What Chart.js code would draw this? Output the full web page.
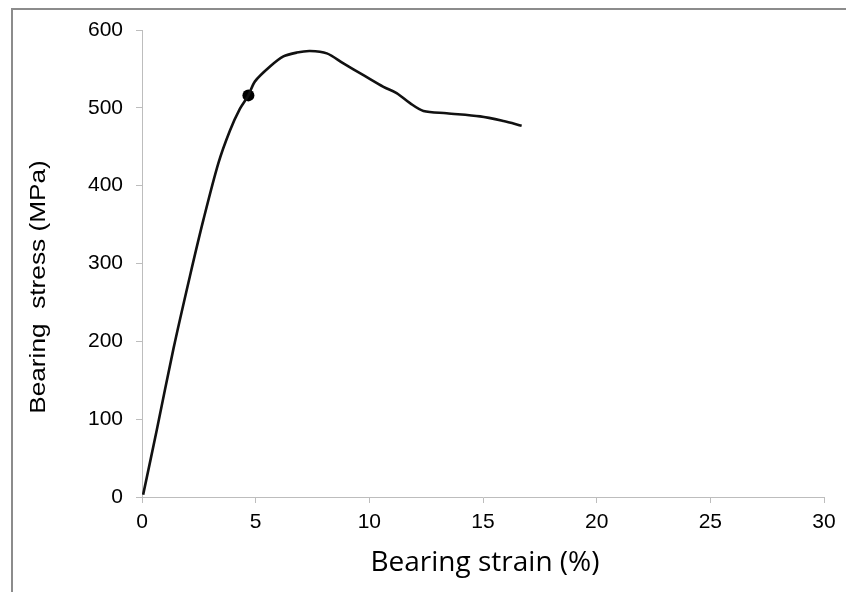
<!DOCTYPE html>
<html>
<head>
<meta charset="utf-8">
<script src="https://cdn.jsdelivr.net/npm/chart.js@4.4.0/dist/chart.umd.min.js"></script>
<style>
    html, body { margin: 0; padding: 0; background: #fff; }
    #wrap { width: 846px; height: 592px; }
</style>
</head>
<body>
<div id="wrap"><canvas id="bearing-chart"></canvas></div>
<script>
    // values
    var strain = [0.05, 0.65, 1.38, 2.11, 2.7, 3.36, 3.87, 4.31, 4.68, 4.97, 5.63, 6.22, 6.81, 7.39,
        8.13, 8.86, 9.74, 10.62, 11.2, 11.79, 12.38, 13.4, 14.87, 15.9, 16.7];
    var stress = [3, 86, 190, 284, 356, 429, 471, 499, 516, 534, 553, 566, 571, 573,
        570, 557, 542, 527, 519, 506, 496, 493, 489, 483, 477];
    var markStrain = [4.68];
    var markStress = [516];
    var xTicks = [0, 5, 10, 15, 20, 25, 30];
    var yTicks = [0, 100, 200, 300, 400, 500, 600];
    var xTitle = 'Bearing strain (%)';
    var yTitle = 'Bearing  stress (MPa)';

    function toPoints(xs, ys) {
        return xs.map(function (x, i) { return {x: x, y: ys[i]}; });
    }

    // frame + titles, drawn by hand
    var decor = {
        id: 'decor',
        beforeDraw: function (chart) {
            var ctx = chart.ctx;
            ctx.save();
            ctx.fillStyle = '#fff';
            ctx.fillRect(0, 0, chart.width, chart.height);
            ctx.strokeStyle = '#8c8c8c';
            ctx.lineWidth = 2;
            ctx.strokeRect(12, 9, 900, 700);
            ctx.restore();
        },
        afterDraw: function (chart) {
            var ctx = chart.ctx;
            ctx.save();
            ctx.fillStyle = '#000';
            ctx.textAlign = 'center';
            ctx.textBaseline = 'alphabetic';
            ctx.font = '28px "Open Sans", sans-serif';
            ctx.fillText(xTitle, 485, 571);

            ctx.translate(45, 287);
            ctx.rotate(-Math.PI / 2);
            ctx.scale(1.22, 1);
            ctx.font = '21.5px "Liberation Sans", Arial, sans-serif';
            ctx.fillText(yTitle, 0, 0);
            ctx.restore();
        }
    };

    var axisGray = '#bdbdbd';
    var tickFont = {family: '"Liberation Sans", Arial, sans-serif', size: 21};

    var ctx = document.getElementById('bearing-chart').getContext('2d');
    var chart = new Chart(ctx, {
        type: 'scatter',
        data: {
            datasets: [{
                label: 'curve',
                data: toPoints(strain, stress),
                showLine: true,
                borderColor: '#111',
                borderWidth: 2.6,
                pointRadius: 0,
                tension: 0.3,
                fill: false
            }, {
                label: 'mark',
                data: toPoints(markStrain, markStress),
                pointRadius: 6,
                pointStyle: 'circle',
                backgroundColor: '#000',
                borderColor: '#000',
                borderWidth: 0
            }]
        },
        options: {
            responsive: true, maintainAspectRatio: false, animation: false,
            layout: {padding: {left: 0, right: 22, top: 30, bottom: 0}},
            plugins: {legend: {display: false}, tooltip: {enabled: false}},
            scales: {
                x: {
                    type: 'linear', min: 0, max: 30,
                    afterFit: function (s) { s.height = 95; },
                    afterBuildTicks: function (s) { s.ticks = xTicks.map(function (v) { return {value: v}; }); },
                    grid: {drawOnChartArea: false, drawTicks: true, tickLength: 6, color: axisGray},
                    border: {color: axisGray, width: 1},
                    ticks: {color: '#000', font: tickFont, padding: 7, maxRotation: 0}
                },
                y: {
                    type: 'linear', min: 0, max: 600,
                    afterFit: function (s) { s.width = 142; },
                    afterBuildTicks: function (s) { s.ticks = yTicks.map(function (v) { return {value: v}; }); },
                    grid: {drawOnChartArea: false, drawTicks: true, tickLength: 6, color: axisGray},
                    border: {color: axisGray, width: 1},
                    ticks: {color: '#000', font: tickFont, padding: 13}
                }
            }
        },
        plugins: [decor]
    });
</script>
</body>
</html>
